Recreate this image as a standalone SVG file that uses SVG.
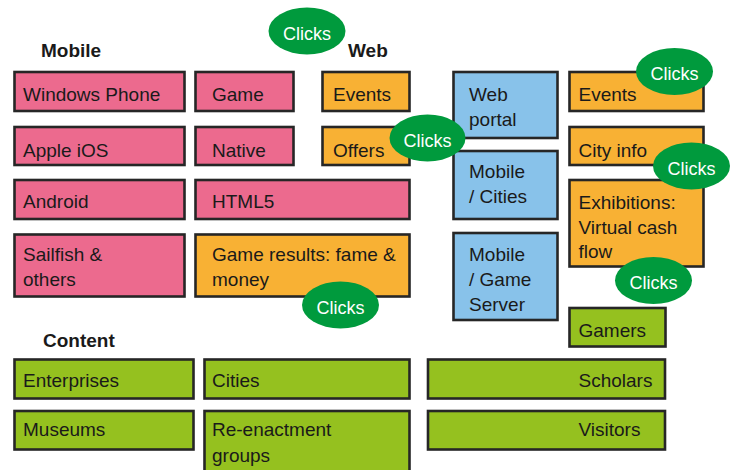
<svg xmlns="http://www.w3.org/2000/svg" width="736" height="470" viewBox="0 0 736 470">
<style>
rect{stroke:#262626;stroke-width:2.6}
.p{fill:#EC6A8E}.o{fill:#F8B134}.b{fill:#88C2EA}.g{fill:#95C11F}
text{font-family:"Liberation Sans",Arial,sans-serif;font-size:19px;fill:#1a1a1a}
.h{font-weight:bold}
.ck ellipse{fill:#009A3D}
.ck text{fill:#fff;font-size:18px;text-anchor:middle}
</style>
<rect width="736" height="470" fill="#fff" style="stroke:none"/>
<g id="labels">
<text class="h" x="41" y="57">Mobile</text>
<text class="h" x="348" y="57">Web</text>
<text class="h" x="43" y="347">Content</text>
</g>
<g id="n-winphone"><rect class="p" x="14.5" y="72" width="170" height="39"/><text x="23" y="101">Windows Phone</text></g>
<g id="n-game"><rect class="p" x="195.5" y="72" width="98" height="39"/><text x="212" y="101">Game</text></g>
<g id="n-web-events"><rect class="o" x="322.5" y="72" width="87" height="39"/><text x="333" y="101">Events</text></g>
<g id="n-ios"><rect class="p" x="14.5" y="127" width="170" height="38"/><text x="23" y="157">Apple iOS</text></g>
<g id="n-native"><rect class="p" x="195.5" y="127" width="98" height="38"/><text x="212" y="157">Native</text></g>
<g id="n-offers"><rect class="o" x="322.5" y="127" width="87" height="38"/><text x="333" y="157">Offers</text></g>
<g id="n-android"><rect class="p" x="14.5" y="180" width="170" height="39"/><text x="23" y="207.5">Android</text></g>
<g id="n-html5"><rect class="p" x="195.5" y="180" width="214" height="39"/><text x="212" y="207.5">HTML5</text></g>
<g id="n-sailfish"><rect class="p" x="14.5" y="234.5" width="170" height="62"/><text x="23" y="261">Sailfish &amp;</text><text x="23" y="286">others</text></g>
<g id="n-gameresults"><rect class="o" x="195.5" y="234.5" width="214" height="62"/><text x="212" y="261">Game results: fame &amp;</text><text x="212" y="286">money</text></g>
<g id="n-webportal"><rect class="b" x="453.5" y="72" width="104" height="66"/><text x="469" y="101">Web</text><text x="469" y="126">portal</text></g>
<g id="n-mobcities"><rect class="b" x="453.5" y="151" width="104" height="68"/><text x="469" y="177.5">Mobile</text><text x="469" y="202.5">/ Cities</text></g>
<g id="n-mobgame"><rect class="b" x="453.5" y="233" width="104" height="87"/><text x="469" y="261">Mobile</text><text x="469" y="286">/ Game</text><text x="469" y="310.5">Server</text></g>
<g id="n-events"><rect class="o" x="569.5" y="72" width="134" height="39"/><text x="578.5" y="101">Events</text></g>
<g id="n-cityinfo"><rect class="o" x="569.5" y="127" width="134" height="38"/><text x="578.5" y="157">City info</text></g>
<g id="n-exhib"><rect class="o" x="569.5" y="180" width="134" height="86.5"/><text x="578.5" y="208.5">Exhibitions:</text><text x="578.5" y="233.5">Virtual cash</text><text x="578.5" y="257.5">flow</text></g>
<g id="n-gamers"><rect class="g" x="569.5" y="308" width="96" height="38.5"/><text x="578.5" y="337">Gamers</text></g>
<g id="n-enterprises"><rect class="g" x="14.5" y="359.5" width="179" height="39"/><text x="23" y="387">Enterprises</text></g>
<g id="n-cities"><rect class="g" x="204.5" y="359.5" width="205" height="39"/><text x="212" y="387">Cities</text></g>
<g id="n-scholars"><rect class="g" x="428" y="359.5" width="237" height="39"/><text x="578.5" y="387">Scholars</text></g>
<g id="n-museums"><rect class="g" x="14.5" y="411" width="179" height="38.5"/><text x="23" y="436">Museums</text></g>
<g id="n-reenact"><rect class="g" x="204.5" y="411" width="205" height="62"/><text x="212" y="436">Re-enactment</text><text x="212" y="462">groups</text></g>
<g id="n-visitors"><rect class="g" x="428" y="411" width="237" height="38.5"/><text x="578.5" y="436">Visitors</text></g>
<g id="connectors"></g>
<g id="clicks" class="ck">
<g id="ck1"><ellipse cx="307" cy="31" rx="38.5" ry="23.5"/><text x="307" y="39.5">Clicks</text></g>
<g id="ck2"><ellipse cx="427.5" cy="138" rx="38" ry="23.5"/><text x="427.5" y="146.5">Clicks</text></g>
<g id="ck3"><ellipse cx="674.5" cy="71.5" rx="38.5" ry="23.5"/><text x="674.5" y="80">Clicks</text></g>
<g id="ck4"><ellipse cx="691.5" cy="166" rx="38.5" ry="23.5"/><text x="691.5" y="174.5">Clicks</text></g>
<g id="ck5"><ellipse cx="653.5" cy="280.5" rx="38.5" ry="23.5"/><text x="653.5" y="289">Clicks</text></g>
<g id="ck6"><ellipse cx="340.5" cy="305" rx="38.5" ry="23.5"/><text x="340.5" y="313.5">Clicks</text></g>
</g>
</svg>
